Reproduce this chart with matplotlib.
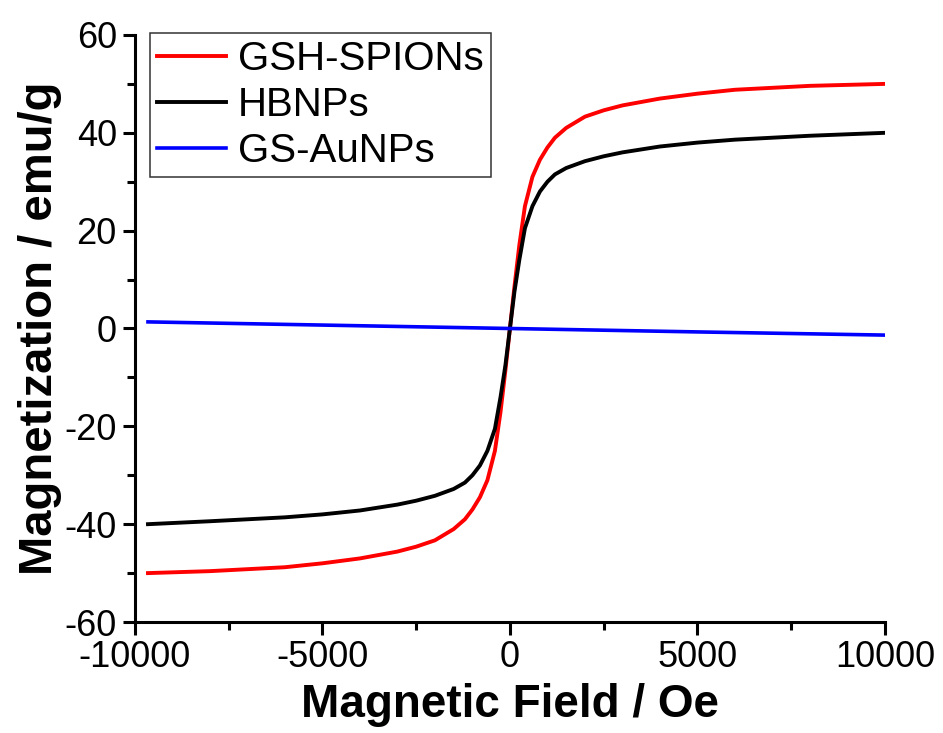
import numpy as np
import matplotlib
matplotlib.use("Agg")
from matplotlib import pyplot as plt
from matplotlib.ticker import MultipleLocator

plt.rcParams['font.family'] = ['Liberation Sans', 'DejaVu Sans']
plt.rcParams['axes.unicode_minus'] = False

# field values (Oe)
field = [-9650, -8000, -7000, -6000, -5000, -4000, -3000, -2500, -2000, -1500,
         -1200, -1000, -800, -600, -400, -250, -120, 0, 120, 250, 400, 600,
         800, 1000, 1200, 1500, 2000, 2500, 3000, 4000, 5000, 6000, 7000,
         8000, 10000]

spions = [-50.0, -49.6, -49.2, -48.8, -48.0, -47.0, -45.6, -44.6, -43.3, -41.0,
          -39.0, -37.0, -34.5, -31.0, -25.0, -17.0, -8.5, 0.0, 8.5, 17.0, 25.0,
          31.0, 34.5, 37.0, 39.0, 41.0, 43.3, 44.6, 45.6, 47.0, 48.0, 48.8,
          49.2, 49.6, 50.0]

hbnps = [-40.0, -39.4, -39.0, -38.6, -38.0, -37.2, -36.0, -35.2, -34.2, -32.8,
         -31.5, -30.0, -28.0, -25.0, -20.5, -14.0, -7.5, 0.0, 7.5, 14.0, 20.5,
         25.0, 28.0, 30.0, 31.5, 32.8, 34.2, 35.2, 36.0, 37.2, 38.0, 38.6,
         39.0, 39.4, 40.0]

au_field = [-9650, -5000, 0, 5000, 10000]
aunps = [1.35, 0.7, 0.0, -0.7, -1.35]

fig = plt.figure(figsize=(9.43, 7.33), dpi=100)
ax = fig.add_axes([0.143, 0.1514, 0.7955, 0.8009])

ax.plot(field, spions, color='#ff0000', lw=2.8, label='GSH-SPIONs')
ax.plot(field, hbnps, color='black', lw=2.8, label='HBNPs')
ax.plot(au_field, aunps, color='#0000ff', lw=2.6, label='GS-AuNPs')

ax.set_xlim(-10000, 10000)
ax.set_ylim(-60, 60)
ax.xaxis.set_major_locator(MultipleLocator(5000))
ax.xaxis.set_minor_locator(MultipleLocator(2500))
ax.yaxis.set_major_locator(MultipleLocator(20))
ax.yaxis.set_minor_locator(MultipleLocator(10))

for side in ['top', 'right']:
    ax.spines[side].set_visible(False)
for side in ['left', 'bottom']:
    ax.spines[side].set_linewidth(2.2)

ax.tick_params(which='major', direction='out', length=9, width=2.2,
               labelsize=26, pad=4)
ax.tick_params(which='minor', direction='out', length=5.5, width=2.2)

ax.set_xlabel('Magnetic Field / Oe', fontsize=33, fontweight='bold', labelpad=6)
ax.set_ylabel('Magnetization / emu/g', fontsize=34, fontweight='bold', labelpad=2)

leg = ax.legend(loc='upper left', bbox_to_anchor=(0.02, 1.004), borderaxespad=0,
                fontsize=29, frameon=True, fancybox=False, handlelength=1.7,
                handletextpad=0.3, labelspacing=0.2, borderpad=0.18)
leg.get_frame().set_edgecolor('black')
leg.get_frame().set_linewidth(1.1)

fig.savefig('out.png', dpi=100)
